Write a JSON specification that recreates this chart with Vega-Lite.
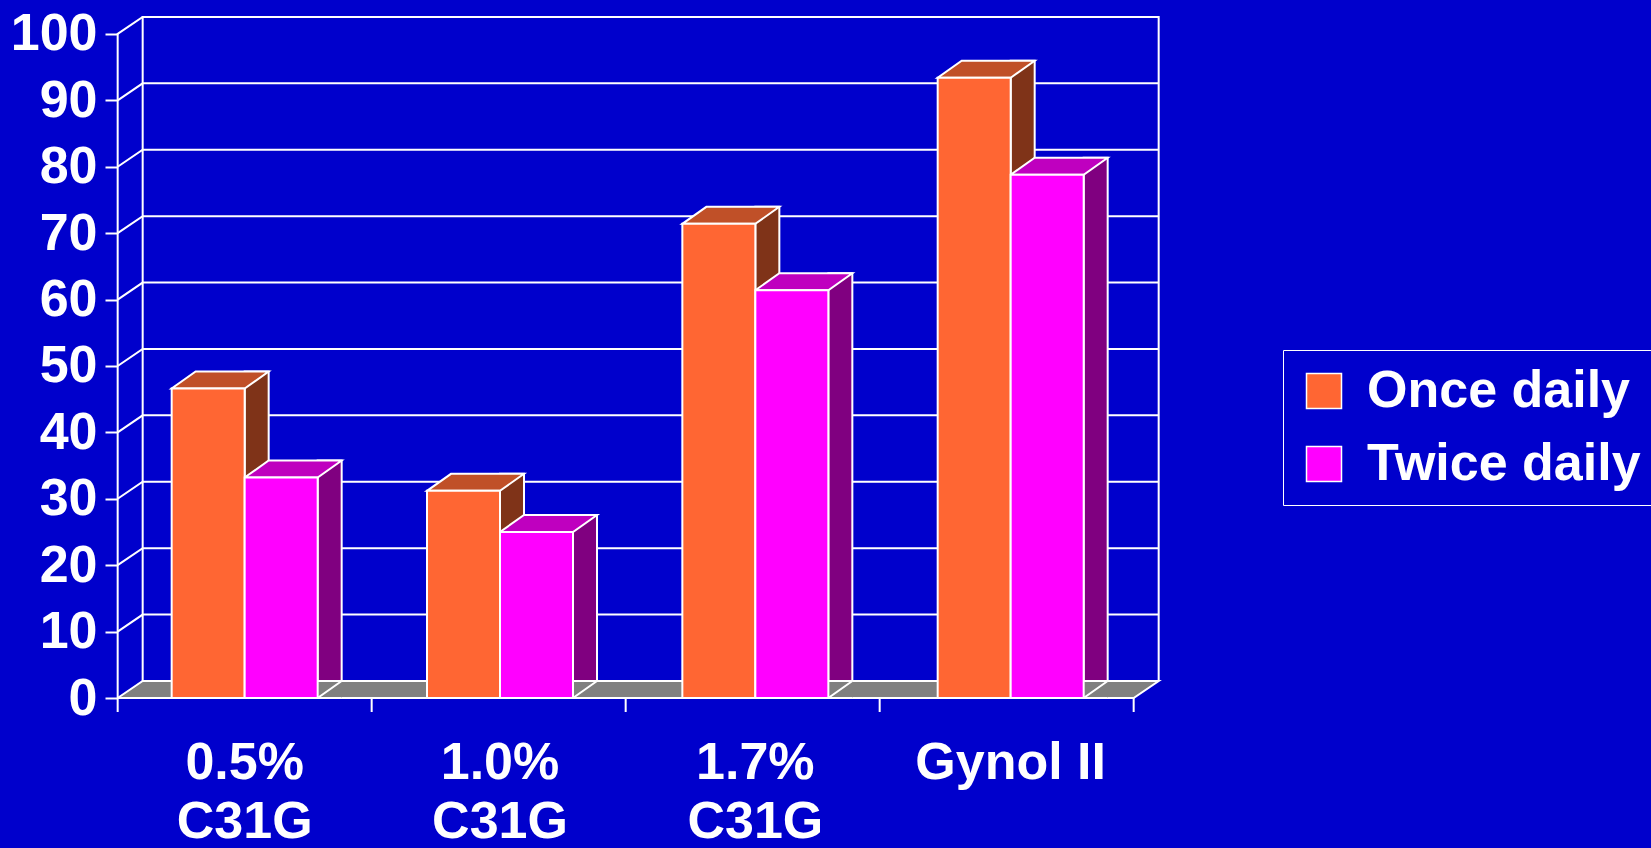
{
  "$schema": "https://vega.github.io/schema/vega-lite/v6.json",
  "width": 1651,
  "height": 848,
  "autosize": {"type": "fit", "contains": "padding"},
  "padding": {"left": 10, "top": 12, "right": 3, "bottom": 0},
  "background": "#0000CC",
  "config": {"font": "Liberation Sans", "view": {"stroke": null}},
  "data": {
    "values": [
      {"category": "0.5% C31G", "series": "Once daily", "percent": 46.6},
      {"category": "0.5% C31G", "series": "Twice daily", "percent": 33.2},
      {"category": "1.0% C31G", "series": "Once daily", "percent": 31.2},
      {"category": "1.0% C31G", "series": "Twice daily", "percent": 25},
      {"category": "1.7% C31G", "series": "Once daily", "percent": 71.4},
      {"category": "1.7% C31G", "series": "Twice daily", "percent": 61.4},
      {"category": "Gynol II", "series": "Once daily", "percent": 93.4},
      {"category": "Gynol II", "series": "Twice daily", "percent": 78.8}
    ]
  },
  "encoding": {
    "x": {
      "field": "category", "type": "nominal", "sort": null, "title": null,
      "scale": {"domain": ["0.5% C31G", "1.0% C31G", "1.7% C31G", "Gynol II"], "paddingInner": 0, "paddingOuter": 0.998, "align": 0},
      "axis": {
        "labelAngle": 0, "labelFontSize": 52, "labelFontWeight": "bold", "labelColor": "white",
        "labelPadding": 39, "labelLimit": 300, "ticks": false, "domain": false, "grid": false,
        "labelExpr": "indexof(datum.value, 'C31G') >= 0 ? replace(datum.value, ' C31G', '') : datum.value"
      }
    },
    "y": {
      "field": "percent", "type": "quantitative", "title": null,
      "scale": {"domain": [0, 102.7], "nice": false},
      "axis": {
        "tickCount": 10, "labelFontSize": 52, "labelFontWeight": "bold", "labelColor": "white", "labelPadding": 8,
        "tickSize": 12, "tickColor": "white", "tickWidth": 2, "domain": false, "grid": false
      }
    }
  },
  "layer": [
    {
      "transform": [{"filter": "datum.category === '0.5% C31G' && datum.series === 'Once daily'"}],
      "mark": {"type": "point", "shape": "M -102 -17 L 914 -17 L 889 0 L -127 0", "size": 4, "filled": true, "fill": "#808080", "stroke": "white", "strokeWidth": 2, "opacity": 1},
      "encoding": {"y": {"datum": 0, "type": "quantitative"}}
    },
    {
      "data": {"values": [{"tick": 0}, {"tick": 10}, {"tick": 20}, {"tick": 30}, {"tick": 40}, {"tick": 50}, {"tick": 60}, {"tick": 70}, {"tick": 80}, {"tick": 90}, {"tick": 100}]},
      "mark": {"type": "point", "shape": "M -127 0 L -102 -17 L 914 -17", "size": 4, "filled": false, "stroke": "white", "strokeWidth": 2, "opacity": 1},
      "encoding": {
        "x": {"datum": "0.5% C31G", "type": "nominal"},
        "y": {"field": "tick", "type": "quantitative"}
      }
    },
    {
      "transform": [{"filter": "datum.category === '0.5% C31G' && datum.series === 'Once daily'"}],
      "mark": {"type": "point", "shape": "M -102 -17 L -102 -682 M 914 -17 L 914 -682 M -127 14 L -127 -665 M 127 0 L 127 14 M 381 0 L 381 14 M 635 0 L 635 14 M 889 0 L 889 14", "size": 4, "filled": false, "stroke": "white", "strokeWidth": 2, "opacity": 1},
      "encoding": {"y": {"datum": 0, "type": "quantitative"}}
    },
    {
      "transform": [{"filter": "datum.series === 'Once daily'"}],
      "mark": {"type": "bar", "width": 24, "xOffset": 12, "yOffset": -17, "fill": "#7F3318", "stroke": "white", "strokeWidth": 2}
    },
    {
      "transform": [{"filter": "datum.series === 'Once daily'"}],
      "mark": {"type": "point", "shape": "M -73 0 L 0 0 L 24 -17 L -49 -17 Z", "size": 4, "filled": true, "fill": "#C05028", "stroke": "white", "strokeWidth": 2, "opacity": 1}
    },
    {
      "transform": [{"filter": "datum.series === 'Twice daily'"}],
      "mark": {"type": "bar", "width": 24, "xOffset": 85, "yOffset": -17, "fill": "#800080", "stroke": "white", "strokeWidth": 2}
    },
    {
      "transform": [{"filter": "datum.series === 'Twice daily'"}],
      "mark": {"type": "point", "shape": "M 0 0 L 73 0 L 97 -17 L 24 -17 Z", "size": 4, "filled": true, "fill": "#BF00BF", "stroke": "white", "strokeWidth": 2, "opacity": 1}
    },
    {
      "transform": [{"filter": "datum.series === 'Once daily'"}],
      "mark": {"type": "bar", "width": 73, "xOffset": -36.5, "stroke": "white", "strokeWidth": 2},
      "encoding": {
        "color": {
          "field": "series", "type": "nominal", "title": null,
          "scale": {"domain": ["Once daily", "Twice daily"], "range": ["#FF6633", "#FF00FF"]},
          "legend": {
            "orient": "none", "legendX": 1166, "legendY": 334, "padding": 15, "strokeColor": "white",
            "symbolType": "square", "symbolSize": 1225, "symbolStrokeColor": "white",
            "labelFontSize": 52, "labelFontWeight": "bold", "labelColor": "white", "labelOffset": 17, "labelLimit": 400,
            "rowPadding": 21
          }
        }
      }
    },
    {
      "transform": [{"filter": "datum.series === 'Twice daily'"}],
      "mark": {"type": "bar", "width": 73, "xOffset": 36.5, "stroke": "white", "strokeWidth": 2},
      "encoding": {
        "color": {"field": "series", "type": "nominal", "title": null}
      }
    },
    {
      "transform": [{"filter": "datum.series === 'Twice daily'"}],
      "mark": {"type": "point", "shape": "M 97 0 L 73 0 L 97 -17", "size": 4, "filled": true, "fill": "#808080", "stroke": "white", "strokeWidth": 2, "opacity": 1},
      "encoding": {"y": {"datum": 0, "type": "quantitative"}}
    },
    {
      "transform": [{"filter": "datum.series === 'Once daily' && indexof(datum.category, 'C31G') >= 0"}],
      "mark": {"type": "text", "dy": 140, "baseline": "alphabetic", "align": "center", "fontSize": 52, "fontWeight": "bold", "color": "white"},
      "encoding": {
        "y": {"datum": 0, "type": "quantitative"},
        "text": {"value": "C31G"}
      }
    }
  ]
}
